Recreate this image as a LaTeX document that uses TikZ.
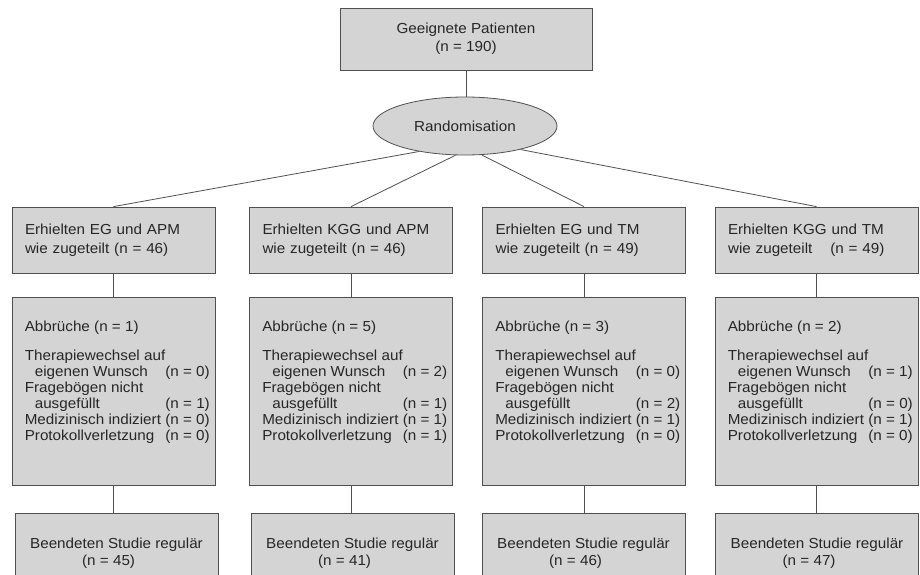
\documentclass[tikz,border=0pt]{standalone}
\usepackage{fontspec}
\setmainfont{Liberation Sans}[FakeStretch=1.05]
\usetikzlibrary{shapes.geometric}
\definecolor{boxfill}{RGB}{212,212,212}
\definecolor{edgecol}{RGB}{80,80,80}
\definecolor{txt}{RGB}{38,38,38}
\newcommand\abbrtab[5]{%
\begin{tabular*}{185pt}[t]{@{}l@{\extracolsep{\fill}}r@{}}
Abbrüche (n = #1) & \\[13pt]
Therapiewechsel auf & \\
\hspace*{10pt}eigenen Wunsch & (n = #2)\\
Fragebögen nicht & \\
\hspace*{10pt}ausgefüllt & (n = #3)\\
Medizinisch indiziert & (n = #4)\\
Protokollverletzung & (n = #5)
\end{tabular*}}
\begin{document}
\begin{tikzpicture}[x=1pt,y=-1pt,
  every node/.style={text=txt, inner sep=0pt},
  lbl/.style={font=\fontsize{14.5}{19}\selectfont},
  lst/.style={font=\fontsize{14.5}{16}\selectfont},
  box/.style={draw=edgecol, fill=boxfill, line width=0.8pt, rectangle},
  grpbox/.style={box, minimum width=203pt, minimum height=66pt, text width=177pt, align=left, lbl},
  dropbox/.style={box, minimum width=203pt, minimum height=188pt},
  endbox/.style={box, minimum width=203pt, minimum height=80pt, anchor=north, align=left, font=\fontsize{14.5}{17}\selectfont},
  conn/.style={draw=edgecol, line width=0.8pt}]
\useasboundingbox (0,0) rectangle (920,575);

\node[box, minimum width=252pt, minimum height=62pt, align=center, font=\fontsize{14.5}{18}\selectfont] (top) at (466,39) {Geeignete Patienten\\(n = 190)};
\node[box, ellipse, minimum width=184pt, minimum height=58pt, lbl] (rand) at (465,126) {Randomisation};

\node[grpbox] (g1) at (113.5,240) {Erhielten EG und APM\\wie zugeteilt (n = 46)};
\node[grpbox] (g2) at (351,240) {Erhielten KGG und APM\\wie zugeteilt (n = 46)};
\node[grpbox] (g3) at (584,240) {Erhielten EG und TM\\wie zugeteilt (n = 49)};
\node[grpbox] (g4) at (816.5,240) {Erhielten KGG und TM\\wie zugeteilt\hspace*{18pt}(n = 49)};

\node[dropbox] (d1) at (113.5,391) {};
\node[dropbox] (d2) at (351,391) {};
\node[dropbox] (d3) at (584,391) {};
\node[dropbox] (d4) at (816.5,391) {};

\node[lst, anchor=base west] (d1t) at ([xshift=13pt,yshift=-35pt]d1.north west) {\abbrtab{1}{0}{1}{0}{0}};
\node[lst, anchor=base west] (d2t) at ([xshift=13pt,yshift=-35pt]d2.north west) {\abbrtab{5}{2}{1}{1}{1}};
\node[lst, anchor=base west] (d3t) at ([xshift=13pt,yshift=-35pt]d3.north west) {\abbrtab{3}{0}{2}{1}{0}};
\node[lst, anchor=base west] (d4t) at ([xshift=13pt,yshift=-35pt]d4.north west) {\abbrtab{2}{1}{0}{1}{0}};

\node[endbox] (e1) at (116.5,513) {Beendeten Studie regulär\\\hspace*{52pt}(n = 45)};
\node[endbox] (e2) at (352.5,513) {Beendeten Studie regulär\\\hspace*{52pt}(n = 41)};
\node[endbox] (e3) at (583.5,513) {Beendeten Studie regulär\\\hspace*{52pt}(n = 46)};
\node[endbox] (e4) at (817,513) {Beendeten Studie regulär\\\hspace*{52pt}(n = 47)};

\draw[conn] (top.south) -- (top.south |- rand.north);
\draw[conn] (rand.209) -- (g1.north);
\draw[conn] (rand.252) -- (g2.north);
\draw[conn] (rand.300) -- (g3.north);
\draw[conn] (rand.337) -- (g4.north);

\foreach \i in {1,2,3,4}{
  \draw[conn] (g\i.south) -- (d\i.north);
  \draw[conn] (d\i.south) -- (d\i.south |- e\i.north);
}
\end{tikzpicture}
\end{document}
